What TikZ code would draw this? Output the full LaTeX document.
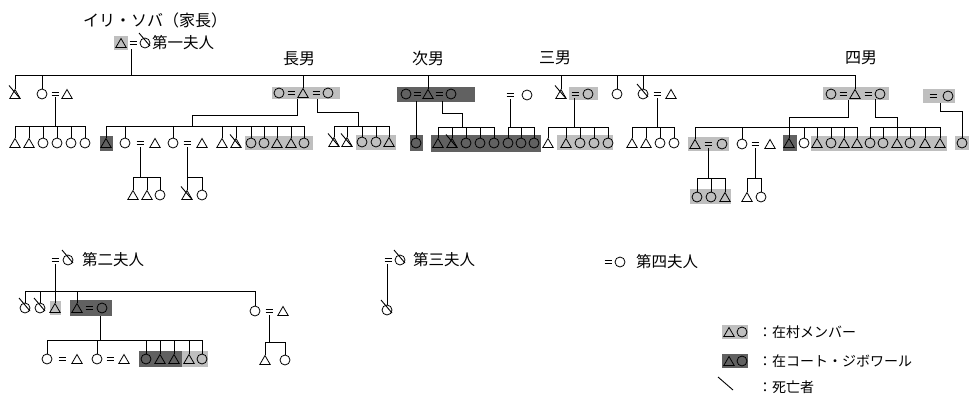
\documentclass[tikz,border=0pt]{standalone}
\usepackage{fontspec}
\setmainfont{Noto Sans CJK JP}
\usetikzlibrary{shapes.geometric}
\tikzset{
 cir/.style={circle,draw,line width=0.8pt,inner sep=0pt,minimum size=10pt},
 tri/.style={regular polygon,regular polygon sides=3,draw,line width=0.8pt,inner sep=0pt,minimum size=12pt,yshift=-1.5pt},
 ln/.style={line width=0.9pt},
 eql/.style={line width=0.8pt},
 lite/.style={fill=black!25},
 dark/.style={fill=black!62},
 ttl/.style={font=\fontsize{16}{16}\selectfont,inner sep=0pt},
 wlbl/.style={font=\fontsize{15.5}{15.5}\selectfont,inner sep=0pt,anchor=west},
 leg/.style={font=\fontsize{14}{14}\selectfont,inner sep=0pt,anchor=west}
}
\newcommand\symO[3]{\node[cir] (#1) at (#2,#3) {};}
\newcommand\symT[3]{\node[tri] (#1) at (#2,#3) {};}
\newcommand\symEq[2]{\draw[eql] (#1-3.5,#2-1.6) -- ++(7,0) (#1-3.5,#2+1.6) -- ++(7,0);}
\newcommand\mkdead[1]{\draw[ln] ([shift={(-6,-10)}]#1.center) -- ([shift={(5,3)}]#1.center);}
\newcommand\sibs[4]{%
 \draw[ln] (#2.north |- 0,#1) -- (#3.north |- 0,#1);
 \foreach \n in {#4} {\draw[ln] (\n.north |- 0,#1) -- (\n.north);}}
\begin{document}
\begin{tikzpicture}[x=1pt,y=-1pt]
\useasboundingbox (0,0) rectangle (972,394);
% ---- shaded boxes
\fill[lite] (114,36) rectangle (128,50);
\fill[lite] (272,87) rectangle (340,99);
\fill[dark] (397,87) rectangle (475,102);
\fill[lite] (569,87) rectangle (598,100);
\fill[lite] (823,87) rectangle (889,100);
\fill[lite] (923,89) rectangle (955,103);
\fill[dark] (100,136) rectangle (113,151);
\fill[lite] (245,136) rectangle (313,150);
\fill[lite] (356,135) rectangle (396,150);
\fill[dark] (410,135) rectangle (423,151);
\fill[dark] (431,135) rectangle (541,152);
\fill[lite] (557,135) rectangle (613,150);
\fill[lite] (688,137) rectangle (729,151);
\fill[dark] (783,135) rectangle (797,151);
\fill[lite] (811,136) rectangle (947,151);
\fill[lite] (955,136) rectangle (969,150);
\fill[lite] (690,189) rectangle (731,204);
\fill[lite] (50,301) rectangle (61,315);
\fill[dark] (70,300) rectangle (112,316);
\fill[dark] (139,351) rectangle (182,367);
\fill[lite] (182,351) rectangle (208,367);
\fill[lite] (722,325) rectangle (748,339);
\fill[dark] (722,354) rectangle (748,368);
% ---- head
\node[ttl] (title) at (155,20) {イリ・ソバ（家長）};
\symT{F}{121}{43} \symEq{133}{43} \symO{W1}{145}{43} \mkdead{W1}
\node[wlbl] (t1) at (152,43) {第一夫人};
\coordinate (pF) at (131,49);
\draw[ln] (pF) -- (pF |- 0,75);
% ---- sons labels
\node[ttl] (l1) at (299,59) {長男};
\node[ttl] (l2) at (428,58) {次男};
\node[ttl] (l3) at (555,58) {三男};
\node[ttl] (l4) at (861,58) {四男};
% ---- row 1
\symT{c1}{15}{94} \mkdead{c1}
\symO{c2}{42}{94} \symEq{55}{94} \symT{c2h}{67}{94}
\symO{s1a}{279}{93} \symEq{291}{93} \symT{s1}{303}{93} \symEq{316}{93} \symO{s1b}{328}{93}
\symO{s2a}{406}{94} \symEq{417}{94} \symT{s2}{428}{94} \symEq{439}{94} \symO{s2b}{451}{94}
\symEq{510}{95} \symO{s2c}{527}{95}
\symT{s3}{561}{94} \mkdead{s3} \symEq{575}{94} \symO{s3w}{588}{94}
\symO{c6}{617}{94}
\symO{c7}{643}{94} \mkdead{c7} \symEq{657}{94} \symT{c7h}{671}{94}
\symO{s4a}{831}{94} \symEq{843}{94} \symT{s4}{855}{94} \symEq{868}{94} \symO{s4b}{880}{94}
\symEq{933}{96} \symO{s4c}{948}{96}
\sibs{75}{c1}{s4}{c1,c2,s1,s2,s3,c6,c7,s4}
% ---- row 2 : group A
\symT{a1}{15}{143} \symT{a2}{29}{143} \symO{a3}{43}{143} \symO{a4}{57}{143} \symO{a5}{71}{143} \symO{a6}{85}{143}
\coordinate (pA) at (55,97);
\draw[ln] (pA) -- (pA |- 0,126);
\sibs{126}{a1}{a6}{a1,a2,a3,a4,a5,a6}
% group B
\symT{b1}{106}{143}
\symO{b2}{125}{143} \symEq{140}{143} \symT{b2h}{155}{143}
\symO{b3}{173}{143} \symEq{187}{143} \symT{b3h}{202}{143}
\symT{b4}{222}{143} \symT{b5}{236}{143} \mkdead{b5}
\symO{b6}{251}{143} \symO{b7}{264}{143} \symT{b8}{277}{143} \symT{b9}{291}{143} \symO{b10}{304}{143}
\coordinate (pB) at (297,99);
\draw[ln] (pB) -- (297,115) -- (192,115) -- (192,126);
\sibs{126}{b1}{b10}{b1,b2,b3,b4,b5,b6,b7,b8,b9,b10}
\symT{ba1}{133}{195} \symT{ba2}{147}{195} \symO{ba3}{160}{195}
\coordinate (pBa) at (140,147);
\draw[ln] (pBa) -- (pBa |- 0,177);
\sibs{177}{ba1}{ba3}{ba1,ba2,ba3}
\symT{bb1}{187}{195} \mkdead{bb1} \symO{bb2}{202}{195}
\coordinate (pBb) at (187,147);
\draw[ln] (pBb) -- (pBb |- 0,177);
\sibs{177}{bb1}{bb2}{bb1,bb2}
% group C
\symT{cc1}{334}{142} \mkdead{cc1} \symT{cc2}{347}{142} \mkdead{cc2}
\symO{cc3}{362}{142} \symO{cc4}{376}{142} \symT{cc5}{389}{142}
\coordinate (pC) at (317,99);
\draw[ln] (pC) -- (317,112) -- (358,112) -- (358,126);
\sibs{126}{cc1}{cc5}{cc1,cc2,cc3,cc4,cc5}
% group D
\symO{d0}{416}{143}
\draw[ln] (d0.north) -- (d0.north |- 0,101);
\symT{d1}{438}{143} \symT{d2}{452}{143} \mkdead{d2} \symO{d3}{466}{143} \symO{d4}{480}{143} \symO{d5}{494}{143}
\coordinate (pD) at (442,101);
\draw[ln] (pD) -- (442,113) -- (462,113) -- (462,127);
\sibs{127}{d1}{d5}{d1,d2,d3,d4,d5}
\symO{d6}{508}{143} \symO{d7}{521}{143} \symO{d8}{534}{143}
\coordinate (pD2) at (510,99);
\draw[ln] (pD2) -- (pD2 |- 0,127);
\sibs{127}{d6}{d8}{d6,d7,d8}
% group E
\symT{e1}{548}{143} \symT{e2}{566}{143} \symO{e3}{580}{143} \symO{e4}{594}{143} \symO{e5}{608}{143}
\coordinate (pE) at (574,98);
\draw[ln] (pE) -- (pE |- 0,127);
\sibs{127}{e1}{e5}{e1,e2,e3,e4,e5}
% group F
\symT{f1}{632}{143} \symT{f2}{646}{143} \symO{f3}{660}{143} \symO{f4}{674}{143}
\coordinate (pF2) at (657,98);
\draw[ln] (pF2) -- (pF2 |- 0,127);
\sibs{127}{f1}{f4}{f1,f2,f3,f4}
% group G
\symT{g1}{695}{144} \symEq{708}{144} \symO{g1w}{722}{144}
\symO{g2}{742}{144} \symEq{755}{144} \symT{g2h}{770}{144}
\symT{g3}{789}{143} \symO{g4}{804}{143}
\symT{g5}{817}{143} \symO{g6}{831}{143} \symT{g7}{844}{143} \symT{g8}{857}{143}
\coordinate (pG) at (848,100);
\draw[ln] (pG) -- (848,117) -- (g3.north |- 0,117) -- (g3.north);
\sibs{127}{g1}{g8}{g1,g2,g4,g5,g6,g7,g8}
\symO{h1}{870}{143} \symO{h2}{883}{143} \symT{h3}{897}{143} \symO{h4}{910}{143} \symT{h5}{925}{143} \symT{h6}{940}{143}
\coordinate (pH) at (875,99);
\draw[ln] (pH) -- (875,117) -- (897,117) -- (897,127);
\sibs{127}{h1}{h6}{h1,h2,h3,h4,h5,h6}
\symO{h7}{962}{143}
\coordinate (pH2) at (940,103);
\draw[ln] (pH2) -- (940,111) -- (h7.north |- 0,111) -- (h7.north);
% row 3
\symO{gg1}{697}{197} \symO{gg2}{711}{197} \symT{gg3}{725}{197}
\coordinate (pGg) at (708,148);
\draw[ln] (pGg) -- (pGg |- 0,178);
\sibs{178}{gg1}{gg3}{gg1,gg2,gg3}
\symT{gh1}{747}{197} \symO{gh2}{761}{197}
\coordinate (pGh) at (755,148);
\draw[ln] (pGh) -- (pGh |- 0,178);
\sibs{178}{gh1}{gh2}{gh1,gh2}
% ---- second wife
\symEq{55}{260} \symO{W2}{68}{260} \mkdead{W2}
\node[wlbl] (t2) at (82,260) {第二夫人};
\symO{k1}{25}{308} \mkdead{k1} \symO{k2}{40}{308} \mkdead{k2} \symT{k3}{55}{308}
\symT{k4}{77}{308} \symEq{89}{308} \symO{k4w}{102}{308}
\symO{k6}{255}{311} \symEq{269}{311} \symT{k6h}{283}{311}
\coordinate (pK) at (55,264);
\draw[ln] (pK) -- (pK |- 0,291);
\sibs{291}{k1}{k6}{k1,k2,k3,k4,k6}
\symO{m1}{47}{359} \symEq{62}{359} \symT{m1h}{77}{359}
\symO{m2}{97}{359} \symEq{110}{359} \symT{m2h}{124}{359}
\symO{m3}{146}{359} \symT{m4}{160}{359} \symT{m5}{174}{359} \symT{m6}{189}{359} \symO{m7}{202}{359}
\coordinate (pM) at (100,316);
\draw[ln] (pM) -- (pM |- 0,340);
\sibs{340}{m1}{m7}{m1,m2,m3,m4,m5,m6,m7}
\symT{n1}{265}{360} \symO{n2}{285}{360}
\coordinate (pN) at (269,315);
\draw[ln] (pN) -- (pN |- 0,342);
\sibs{342}{n1}{n2}{n1,n2}
% ---- third wife
\symEq{388}{260} \symO{W3}{400}{260} \mkdead{W3}
\node[wlbl] (t3) at (413,260) {第三夫人};
\symO{q1}{387}{310} \mkdead{q1}
\draw[ln] (q1.north |- 0,264) -- (q1.north);
% ---- fourth wife
\symEq{608}{262} \symO{W4}{620}{262}
\node[wlbl] (t4) at (636,262) {第四夫人};
% ---- legend
\symT{L1}{729}{332} \symO{L2}{742}{332}
\symT{L3}{729}{361} \symO{L4}{742}{361}
\coordinate (Da) at (718,377); \coordinate (Db) at (733,390);
\draw[ln] (Da) -- (Db);
\node[leg] (g1t) at (758,332) {：在村メンバー};
\node[leg] (g2t) at (758,361) {：在コート・ジボワール};
\node[leg] (g3t) at (758,387) {：死亡者};
\end{tikzpicture}
\end{document}
